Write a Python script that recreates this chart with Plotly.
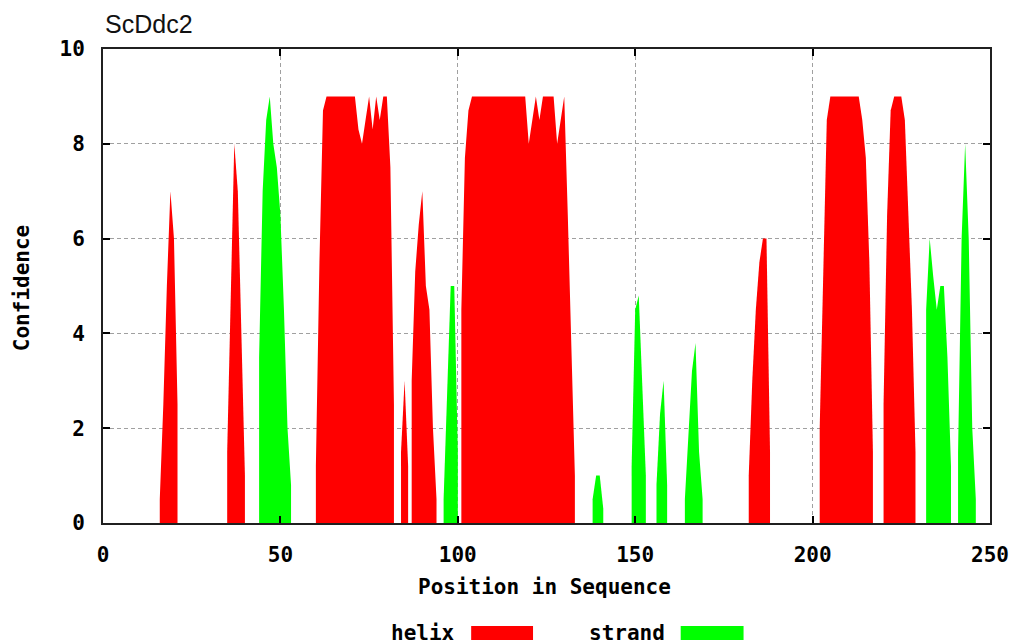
import plotly.graph_objects as go

# ---- data ----
helix_starts = [16, 35, 60, 84, 87, 101, 182, 202, 220]
helix_values = [
    [0.5, 2.5, 5, 7, 6, 2.5],
    [1.5, 5, 8, 7, 4, 1],
    [1.2, 5.5, 8.7, 9, 9, 9, 9, 9, 9, 9, 9, 9, 8.3, 8, 8.5, 9, 8.3, 9, 8.5, 9, 9, 7.5, 2.5],
    [1.5, 3, 1.2],
    [3, 5.3, 6.3, 7, 5, 4.5, 2, 0.5],
    [4.5, 7.7, 8.7, 9, 9, 9, 9, 9, 9, 9, 9, 9, 9, 9, 9, 9, 9, 9, 9,
     8, 8.5, 9, 8.5, 9, 9, 9, 9, 8, 8.5, 9, 6.5, 3.5, 1],
    [1, 3, 4.5, 5.5, 6, 6, 1.5],
    [2, 5, 8.5, 9, 9, 9, 9, 9, 9, 9, 9, 9, 8.5, 7.7, 5.5, 1.5],
    [2.5, 6.5, 8.7, 9, 9, 9, 8.5, 6.5, 4.5, 1.5],
]

strand_starts = [44, 96, 138, 149, 156, 164, 232, 241]
strand_values = [
    [3.5, 7, 8.5, 9, 8, 7.5, 6.5, 4.5, 2, 0.8],
    [0.5, 3, 5, 5, 1.5],
    [0.5, 1, 1, 0.3],
    [1.2, 4.5, 4.8, 3, 1],
    [0.8, 2.3, 3, 0.8],
    [0.5, 2, 3.2, 3.8, 1.5, 0.5],
    [4.5, 6, 5.2, 4.5, 5, 5, 3.5, 1.2],
    [1.5, 6, 8, 6, 2, 0.5],
]

x_ticks = [0, 50, 100, 150, 200, 250]
y_ticks = [0, 2, 4, 6, 8, 10]
title_text = "ScDdc2"
x_title = "Position in Sequence"
y_title = "Confidence"
legend_names = ["helix", "strand"]
colors = ["#ff0000", "#00ff00"]

fig = go.Figure()
for (starts, values), col, name in zip(
        [(helix_starts, helix_values), (strand_starts, strand_values)], colors, legend_names):
    for s, vals in zip(starts, values):
        xs = [s + i for i in range(len(vals))]
        fig.add_trace(go.Scatter(
            x=xs, y=vals, mode="lines", fill="tozeroy", fillcolor=col,
            line=dict(color=col, width=0), showlegend=False, name=name,
            hoverinfo="skip"))

mono = "DejaVu Sans Mono"
tfont = dict(family=mono, size=21, color="#000000", weight="bold")

# plot area in pixels
L, R, T, B = 103, 992, 49, 523
W, H = 1021, 644


def px(xp):
    return (xp - L) / (R - L)


def py(yp):
    return (B - yp) / (B - T)


fig.update_layout(
    width=W, height=H,
    margin=dict(l=L, r=W - R, t=T, b=H - B),
    paper_bgcolor="white", plot_bgcolor="white",
    xaxis=dict(range=[0, 250], tickvals=x_ticks, ticks="inside", ticklen=7,
               tickcolor="#000", tickwidth=1.5,
               showline=True, linecolor="#202020", linewidth=2, mirror="ticks",
               showgrid=True, gridcolor="#a0a0a0", griddash="4px,3px", gridwidth=1,
               zeroline=False, tickfont=tfont, ticklabelstandoff=12),
    yaxis=dict(range=[0, 10], tickvals=y_ticks, ticks="inside", ticklen=7,
               tickcolor="#000", tickwidth=1.5,
               showline=True, linecolor="#202020", linewidth=2, mirror="ticks",
               showgrid=True, gridcolor="#a0a0a0", griddash="4px,3px", gridwidth=1,
               zeroline=False, tickfont=tfont, ticklabelstandoff=12),
)

annotations = [
    dict(text=title_text, x=px(103), y=py(24), xanchor="left", yanchor="middle",
         font=dict(family="Liberation Sans", size=25, color="#111")),
    dict(text=x_title, x=px(545), y=py(587), xanchor="center", yanchor="middle", font=tfont),
    dict(text=y_title, x=px(22), y=py(288), xanchor="center", yanchor="middle",
         textangle=-90, font=tfont),
    dict(text=legend_names[0], x=px(458), y=py(633), xanchor="right", yanchor="middle", font=tfont),
    dict(text=legend_names[1], x=px(668), y=py(633), xanchor="right", yanchor="middle", font=tfont),
]
for a in annotations:
    a.update(xref="paper", yref="paper", showarrow=False)
fig.update_layout(annotations=annotations)

fig.add_shape(type="rect", xref="paper", yref="paper", x0=px(472), x1=px(534),
              y0=py(626), y1=py(640), fillcolor=colors[0], line=dict(width=0))
fig.add_shape(type="rect", xref="paper", yref="paper", x0=px(682), x1=px(745),
              y0=py(626), y1=py(640), fillcolor=colors[1], line=dict(width=0))

fig.write_html("out.html")
